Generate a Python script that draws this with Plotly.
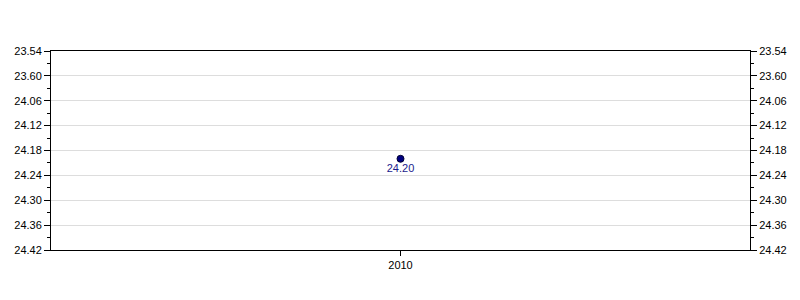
import plotly.graph_objects as go

# Data
years = ["2010"]
times = ["24.20"]          # mm.ss
tick_labels = ["23.54", "23.60", "24.06", "24.12", "24.18", "24.24", "24.30", "24.36", "24.42"]


def to_sec(s):
    m, sec = s.split(".")
    return int(m) * 60 + int(sec)


tick_vals = [to_sec(t) for t in tick_labels]
minor_vals = [(a + b) / 2 for a, b in zip(tick_vals[:-1], tick_vals[1:])]
y_vals = [to_sec(t) for t in times]

NAVY = "#000080"
FONT = "Liberation Sans, Arial, sans-serif"

fig = go.Figure()
fig.add_trace(go.Scatter(
    x=years, y=y_vals, mode="markers+text",
    text=times, textposition="bottom center",
    textfont=dict(family=FONT, size=11, color="#1a1a8c"),
    marker=dict(size=7, color=NAVY, line=dict(color="#000033", width=1)),
    hoverinfo="skip", showlegend=False,
))
fig.add_trace(go.Scatter(
    x=years, y=y_vals, yaxis="y2", mode="markers",
    marker=dict(opacity=0), hoverinfo="skip", showlegend=False,
))

yrange = [max(tick_vals), min(tick_vals)]
yax = dict(
    range=yrange, tickmode="array", tickvals=tick_vals, ticktext=tick_labels,
    ticks="outside", ticklen=6, tickcolor="black", tickwidth=1,
    minor=dict(tickmode="array", tickvals=minor_vals, ticks="outside",
               ticklen=3, tickcolor="black", showgrid=False),
    showline=True, linecolor="black", linewidth=1,
    showgrid=True, gridcolor="#dddddd", gridwidth=1,
    zeroline=False, tickfont=dict(family=FONT, size=11, color="black"),
)
fig.update_layout(
    width=800, height=300,
    margin=dict(l=51, r=50, t=51, b=50),
    paper_bgcolor="white", plot_bgcolor="white",
    xaxis=dict(
        type="category", range=[-0.5, 0.5],
        showline=True, linecolor="black", linewidth=1, mirror=True,
        ticks="outside", ticklen=5, tickcolor="black",
        showgrid=False, zeroline=False,
        tickfont=dict(family=FONT, size=11, color="black"),
    ),
    yaxis=yax,
    yaxis2=dict(yax, overlaying="y", side="right", showgrid=False),
)
fig.write_html("out.html")
